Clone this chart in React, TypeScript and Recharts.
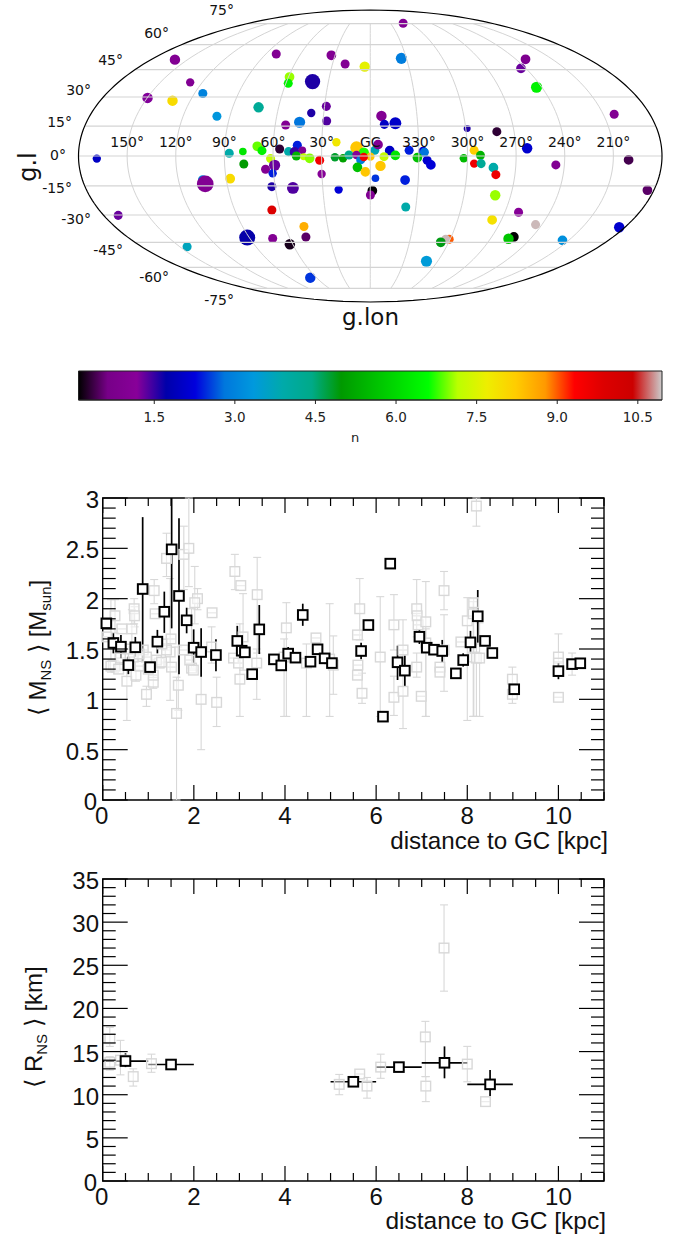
import { Cell, ErrorBar, ReferenceArea, ReferenceDot, Scatter, ScatterChart, XAxis, YAxis, ZAxis } from "recharts";

// sky map: x/y are the projected (Mollweide plane) coordinates in degrees, GC at the centre
const mapX = [168.7, 120.5, 111.1, 137.4, 122, 103.3, 94.6, 68.9, 58, 24, 49.8, 50.6, 35.6, 27.1, 36.4, 26.9, 43.6, 52.2, 20.9, 45, 55.9, 69.7, 66.8, 78.6, 87, 50.4, 46.7, 41.9, 45.6, 41.1, 37.4, 31.2, 21.8, 61.5, 78, 64.6, 59, 60.2, 86.4, 103.3, 101.8, 30, 60.7, 47.7, 19.5, 60.7, 155.5, 40.9, 75.9, 60.2, 39.7, 49.6, 113, 37, -20.3, 15.5, 3.4, -19.2, -95.8, -93, -102.6, -6.9, -8.7, -15.5, -59.8, -78.1, -150.5, -96.8, -64.1, 8.5, 4, -2.8, -4.8, -12, -24, -32.6, -33.4, -8.5, -15.5, -29.1, -35.1, -37.4, -57.7, -68, -64.1, -68.4, -76, -77.5, -114.5, -159.4, -171, 16.8, 13.1, 8.5, 5.9, -0.1, 4, 7.9, -6.3, 3, -3.2, -21.5, -1.3, -0.1, -77.1, -21.9, -91.5, -75.2, -102, -153.6, -48.7, -46.6, -43.5, -88.6, -85.3, -118.6, -34.7];
const mapY = [-1.6, 59.4, 45.4, 35.8, 34.1, 38.5, 24.5, 30, 62.9, 62.1, 48.7, 44.8, 45.9, 30.6, 26.5, 21.6, 20.8, 19.1, 8.5, 6.6, 4.3, 6, 3.3, 2.7, 1.7, 2.7, 2.5, 3.5, 0, -0.4, -1.4, -2.6, -0.8, -1.6, -4.9, -8.2, -5.7, -10.7, -14, -14.8, -17.2, -11.1, -18.9, -19.7, -20.7, -33.3, -36.6, -43.5, -50.3, -50.9, -49.9, -54.4, -55.9, -75, 81.8, 56.7, 55.1, 60.2, 59.6, 54, 42.4, 24.7, 19.5, 20.2, 16.9, 15, 25.7, 4.8, 3.5, 5.2, 2.1, 3.5, 7, 3.3, 3.5, 2.7, 2.3, -0.4, 0.4, -1, -2.6, -5.5, -1.4, 0.4, -4.7, -4.7, -7.2, -11.5, -5.5, -2.4, -21.1, -1.4, 0.6, 0.6, -2.4, -0.4, -0.6, -7, -6.1, -9.8, -13.7, -14.8, -21.4, -24, -24.2, -31.4, -34.7, -39.4, -42.3, -43.9, -51.3, -51.3, -53.2, -49.9, -51, -52, -64.9];
const mapN = [2, 1, 1, 1.2, 8, 3, 3.3, 4.2, 1, 1, 7.05, 6.4, 1.6, 1.3, 1.6, 1.4, 2.8, 1, 7.8, 2.4, 0.3, 6.9, 6.4, 6.2, 3.9, 3.9, 1.5, 1, 5.4, 7.2, 7, 9.5, 4.8, 7.25, 5, 1, 1.3, 2.4, 8, 3, 1, 1.1, 1.6, 1.4, 2.2, 9.9, 1.3, 8.55, 1.7, 1, 0.5, 0.2, 3.7, 2.5, 1, 1, 7.6, 2.9, 0.85, 1.3, 6.4, 1, 2, 2.05, 1.6, 0.3, 1, 2.1, 8.2, 8.3, 6.7, 3.8, 1, 2, 2.4, 2.1, 2.8, 7.25, 6.2, 5.6, 2.1, 2.2, 5.5, 5.4, 9.6, 4.2, 3.9, 9.6, 1, 0.4, 0.5, 5.1, 4.4, 1.1, 2.9, 8.3, 9.5, 5.6, 8.3, 8.3, 2.5, 2.4, 0.1, 1, 7.05, 3.9, 1.1, 7.9, 10.9, 2.1, 9, 10.9, 4.9, 0.1, 5.7, 3.2, 3.4];
const mapWeight = [12, 15, 12, 15, 15, 13, 13, 15, 13, 14, 14, 13, 22, 13, 12, 13, 16, 13, 12, 13, 13, 14, 13, 11, 13, 13, 14, 11, 13, 10, 14, 13, 12, 13, 13, 13, 16, 12, 14, 14, 24, 12, 13, 17, 12, 13, 13, 13, 23, 13, 13, 15, 13, 15, 13, 13, 15, 16, 14, 14, 16, 15, 13, 17, 10, 13, 13, 15, 13, 18, 15, 13, 14, 14, 13, 14, 13, 13, 14, 14, 13, 14, 12, 13, 12, 13, 14, 13, 13, 14, 14, 12, 13, 12, 13, 12, 12, 14, 15, 14, 11, 14, 14, 13, 15, 13, 13, 14, 13, 15, 13, 13, 14, 14, 15, 14, 16];

const lonTickValues = [150, 120, 90, 60, 30, 0, -30, -60, -90, -120, -150];
const lonTickLabels = ["150°", "120°", "90°", "60°", "30°", "GC", "330°", "300°", "270°", "240°", "210°"];
const latTickLabels = ["75°", "60°", "45°", "30°", "15°", "0°", "-15°", "-30°", "-45°", "-60°", "-75°"];
const latGrid = [75, 60, 45, 30, 15, 0, -15, -30, -45, -60, -75];
const lonGrid = [-150, -120, -90, -60, -30, 0, 30, 60, 90, 120, 150];

// nipy_spectral, 21 equally spaced stops
const nStops = ["#000000", "#770088", "#880099", "#0000aa", "#0000dd", "#0077dd", "#0099dd", "#00aaaa", "#00aa88", "#009900", "#00bb00", "#00dd00", "#00ff00", "#bbff00", "#eeee00", "#ffcc00", "#ff9900", "#ff0000", "#dd0000", "#cc0000", "#cccccc"];
const nTicks = [1.5, 3, 4.5, 6, 7.5, 9, 10.5];
const N_MIN = 0.09;
const N_MAX = 10.95;

// per-star mass vs distance (grey), hi/lo are the ends of the error bar
const massGreyX = [0.27, 0.42, 0.64, 0.69, 0.7, 1.13, 1.15, 1.4, 1.78, 1.89, 2.08, 2.02, 2.4, 2.9, 3.03, 3.08, 3.39, 4.03, 4.68, 0.53, 0.23, 0.27, 0.39, 0.73, 0.82, 0.96, 1.11, 1.24, 1.18, 1.48, 1.5, 1.66, 1.62, 2.16, 2.5, 3.01, 2.87, 2.98, 3.38, 3.98, 4.47, 1.95, 1.99, 1.77, 0.67, 0.89, 0.96, 2.39, 0.09, 0.18, 5.64, 5.59, 5.6, 5.59, 5.69, 6.09, 6.39, 6.39, 6.59, 6.59, 6.89, 6.9, 6.92, 6.89, 6.99, 7.09, 7.09, 7.49, 7.4, 7.4, 7.49, 7.86, 8, 8.14, 8.13, 8.2, 8.14, 8.2, 8.27, 8.99, 8.99, 10, 10, 10, 10.3, 5.06, 4.98, 1.4, 1.51, 1.91, 1.29, 1.11, 1, 0.55, 0.35, 1.3, 0.8];
const massGreyY = [1.83, 1.7, 1.7, 1.9, 1.83, 2.08, 1.85, 2.4, 2.44, 2.5, 2, 1.96, 1.86, 2.27, 2.13, 1.62, 2.04, 1.71, 1.61, 1.18, 1.34, 1.33, 1.41, 1.24, 1.33, 1.05, 1.17, 1.36, 1.39, 1.47, 1.6, 1.14, 0.86, 1, 0.97, 1.2, 1.41, 1.36, 1.36, 1.42, 1.36, 1.31, 1.29, 1.49, 1.42, 1.49, 1.42, 1.52, 1.62, 1.33, 1.9, 1.64, 1.34, 1.24, 1.06, 1.42, 1.74, 1.02, 1.08, 1.49, 1.9, 1.83, 1.74, 1.32, 1.03, 1.77, 1.56, 2.08, 1.32, 1.27, 1.49, 1.57, 1.78, 1.96, 1.85, 2.92, 1.42, 1.41, 1.41, 1.2, 1.05, 1.42, 1.02, 1.36, 1.35, 1.34, 1.4, 1.49, 1.32, 1.39, 1.37, 1.24, 1.3, 1.5, 1.3, 1.55, 1.45];
const massGreyHi = [1.99, 1.7, 1.89, 2, 1.92, 2.19, 1.85, 2.65, 2.72, 3, 2.1, 2.32, 1.86, 2.44, 2.13, 2.05, 2.41, 1.96, 1.61, 1.41, 1.34, 1.5, 1.41, 1.29, 1.33, 1.13, 1.24, 1.36, 1.39, 2.2, 1.6, 1.52, 1.22, 1.46, 1.22, 1.75, 1.41, 1.36, 1.5, 1.6, 1.55, 1.9, 1.29, 1.49, 1.42, 1.49, 1.42, 1.72, 1.62, 1.99, 2.2, 1.64, 1.34, 1.24, 1.26, 2.02, 2.04, 1.23, 1.79, 1.49, 2.19, 1.83, 1.74, 1.46, 1.03, 2.17, 1.7, 2.27, 1.32, 1.27, 1.84, 1.57, 2.01, 2, 1.97, 3, 1.6, 1.55, 1.76, 1.32, 1.05, 1.65, 1.02, 1.36, 1.46, 1.63, 1.95, 1.49, 1.32, 1.39, 1.37, 1.24, 1.3, 1.5, 1.3, 1.55, 1.45];
const massGreyLo = [1.66, 1.7, 1.52, 1.75, 1.72, 1.95, 1.85, 2.22, 2.09, 2.12, 1.89, 1.75, 1.86, 2.09, 2.13, 1.29, 1.46, 0.83, 1.61, 0.79, 1.34, 1.27, 1.41, 1.18, 1.33, 0.93, 1.11, 1.36, 1.39, 0.99, 1.6, 0.89, 0, 0.5, 0.73, 0.83, 1.41, 1.36, 1, 0.83, 0.83, 1.31, 1.29, 1.49, 1.42, 1.49, 1.42, 1.36, 1.62, 1.27, 1.59, 1.64, 1.34, 1.24, 0.96, 0.83, 1.49, 0.84, 0.71, 1.49, 1.62, 1.83, 1.74, 1.22, 1.03, 0.83, 0.83, 1.89, 1.32, 1.27, 1.08, 1.57, 0.79, 0.83, 0.83, 2.72, 0.83, 0.83, 0.83, 0.96, 1.05, 1.29, 1.02, 1.36, 1.24, 1.05, 0.83, 1.49, 1.32, 1.39, 1.37, 1.24, 1.3, 1.5, 1.3, 1.55, 1.45];

// per-bin mean mass (black)
const massMeanX = [0.08, 0.234, 0.4, 0.563, 0.716, 0.877, 1.04, 1.2, 1.352, 1.513, 1.674, 1.842, 1.996, 2.16, 2.485, 2.953, 3.05, 3.12, 3.28, 3.436, 3.757, 3.918, 4.07, 4.23, 4.39, 4.56, 4.715, 4.87, 5.03, 5.67, 5.83, 6.15, 6.31, 6.47, 6.63, 6.95, 7.11, 7.27, 7.45, 7.75, 7.91, 8.07, 8.23, 8.39, 8.55, 9.03, 10, 10.3, 10.48];
const massMeanY = [1.755, 1.56, 1.523, 1.34, 1.517, 2.096, 1.32, 1.573, 1.87, 2.49, 2.027, 1.785, 1.513, 1.47, 1.44, 1.58, 1.483, 1.467, 1.25, 1.695, 1.397, 1.337, 1.454, 1.414, 1.838, 1.374, 1.497, 1.407, 1.36, 1.48, 1.738, 0.828, 2.348, 1.368, 1.285, 1.622, 1.513, 1.493, 1.48, 1.258, 1.39, 1.566, 1.825, 1.58, 1.46, 1.1, 1.28, 1.35, 1.358];
const massMeanHi = [1.755, 1.656, 1.64, 1.424, 1.62, 2.81, 1.32, 1.69, 2.07, 3, 2.8, 1.91, 1.695, 1.705, 1.596, 1.73, 1.56, 1.467, 1.25, 1.937, 1.397, 1.337, 1.52, 1.414, 1.95, 1.374, 1.497, 1.407, 1.36, 1.563, 1.738, 0.828, 2.348, 1.533, 1.434, 1.695, 1.513, 1.493, 1.59, 1.258, 1.457, 1.68, 2.086, 1.58, 1.46, 1.1, 1.358, 1.35, 1.358];
const massMeanLo = [1.755, 1.457, 1.407, 1.25, 1.424, 1.374, 1.32, 1.457, 1.66, 1.705, 1.248, 1.656, 1.33, 1.225, 1.28, 1.44, 1.42, 1.467, 1.25, 1.45, 1.397, 1.337, 1.4, 1.414, 1.73, 1.374, 1.497, 1.407, 1.36, 1.397, 1.738, 0.828, 2.348, 1.192, 1.132, 1.55, 1.513, 1.493, 1.364, 1.258, 1.325, 1.457, 1.563, 1.58, 1.46, 1.1, 1.2, 1.35, 1.358];

// radius vs distance
const radiusGreyX = [0.156, 0.156, 0.39, 0.5, 0.67, 1.07, 5.19, 5.64, 5.8, 6.1, 7.08, 7.09, 7.49, 8, 8.4];
const radiusGreyY = [16.5, 13.75, 14, 14, 12.1, 13.6, 11.2, 12.4, 11, 13.2, 16.7, 11, 27, 13.55, 9.2];
const radiusGreyHi = [17.8, 14.4, 16.3, 14, 13, 14.7, 12.35, 12.4, 12, 14.7, 18.5, 12.1, 32, 15.6, 9.2];
const radiusGreyLo = [15.6, 12.85, 12.3, 14, 11, 12.6, 10, 12.4, 9.6, 11.9, 12.1, 9.2, 22, 11.5, 9.2];
const radiusMeanX = [0.5, 1.5, 5.5, 6.5, 7.5, 8.5];
const radiusMeanY = [13.9, 13.5, 11.5, 13.2, 13.7, 11.2];
const radiusMeanHi = [14.8, 13.5, 11.9, 13.6, 15.6, 12.85];
const radiusMeanLo = [13.2, 13.5, 11.1, 12.8, 11.9, 9.85];
const radiusBinHalfWidth = [0.5, 0.5, 0.5, 0.5, 0.5, 0.5];

const distanceTicks = [0, 0.5, 1, 1.5, 2, 2.5, 3, 3.5, 4, 4.5, 5, 5.5, 6, 6.5, 7, 7.5, 8, 8.5, 9, 9.5, 10, 10.5, 11];
const massTicks = [0, 0.1, 0.2, 0.3, 0.4, 0.5, 0.6, 0.7, 0.8, 0.9, 1, 1.1, 1.2, 1.3, 1.4, 1.5, 1.6, 1.7, 1.8, 1.9, 2, 2.1, 2.2, 2.3, 2.4, 2.5, 2.6, 2.7, 2.8, 2.9, 3];
const radiusTicks = [0, 1, 2, 3, 4, 5, 6, 7, 8, 9, 10, 11, 12, 13, 14, 15, 16, 17, 18, 19, 20, 21, 22, 23, 24, 25, 26, 27, 28, 29, 30, 31, 32, 33, 34, 35];

const SANS = "Liberation Sans, Arial, sans-serif";
const DEJAVU = "DejaVu Sans, sans-serif";
const GREY = "#d8d8d8";
const PLOT_LEFT = 102.7;
const PLOT_RIGHT = 604;
const PLOT_H = 302;

function colorOf(n: number) {
  const t = Math.min(1, Math.max(0, (n - N_MIN) / (N_MAX - N_MIN))) * (nStops.length - 1);
  const i = Math.min(nStops.length - 2, Math.floor(t));
  const mix = (k: number) => {
    const a = parseInt(nStops[i].slice(k, k + 2), 16);
    const b = parseInt(nStops[i + 1].slice(k, k + 2), 16);
    return Math.round(a + (b - a) * (t - i));
  };
  return `rgb(${mix(1)},${mix(3)},${mix(5)})`;
}

// Mollweide auxiliary angle for a latitude in degrees
function auxAngle(lat: number) {
  const phi = (lat * Math.PI) / 180;
  if (Math.abs(lat) === 90) return phi;
  let th = phi;
  for (let i = 0; i < 30; i++) th -= (2 * th + Math.sin(2 * th) - Math.PI * Math.sin(phi)) / (2 + 2 * Math.cos(2 * th));
  return th;
}
const project = (lon: number, lat: number) => {
  const th = auxAngle(lat);
  return { x: lon * Math.cos(th), y: 90 * Math.sin(th) };
};
const sweep = (from: number, to: number, steps: number) => Array.from({ length: steps + 1 }, (_, i) => from + ((to - from) * i) / steps);

const meridians = lonGrid.map((lon) => sweep(-75, 75, 60).map((lat) => project(lon, lat)));
const parallels = latGrid.map((lat) => [project(-180, lat), project(180, lat)]);
const outline = sweep(-90, 90, 120).map((lat) => project(180, lat)).concat(sweep(90, -90, 120).map((lat) => project(-180, lat)));

const mapRows = mapX.map((x, i) => ({ x, y: mapY[i], n: mapN[i], z: mapWeight[i] * mapWeight[i] }));
const rows = (xs: number[], ys: number[], hi: number[], lo: number[]) =>
  xs.map((x, i) => ({ x, y: ys[i], errY: [ys[i] - lo[i], hi[i] - ys[i]] }));
const massGrey = rows(massGreyX, massGreyY, massGreyHi, massGreyLo);
const massMean = rows(massMeanX, massMeanY, massMeanHi, massMeanLo);
const radiusGrey = rows(radiusGreyX, radiusGreyY, radiusGreyHi, radiusGreyLo);
const radiusMean = rows(radiusMeanX, radiusMeanY, radiusMeanHi, radiusMeanLo).map((r, i) => ({ ...r, errX: radiusBinHalfWidth[i] }));

const LAT_LABEL_RIGHT = [234, 169, 123, 91, 72, 66, 72, 91, 123, 169, 234];
const LAT_LABEL_BASE = [15, 38, 65, 95, 127, 160, 193, 224, 255, 282, 305];

const Nothing = () => null;

function GreySquare({ cx, cy }: any) {
  return <rect x={cx - 4.8} y={cy - 4.8} width={9.6} height={9.6} fill="#fff" fillOpacity={0.5} stroke={GREY} strokeWidth={1.4} />;
}
function MeanSquare({ cx, cy }: any) {
  return <rect x={cx - 4.8} y={cy - 4.8} width={9.6} height={9.6} fill="#fff" stroke="#000" strokeWidth={2} />;
}

function DistanceTick({ x, y, payload, plotH }: any) {
  const v = payload.value;
  const major = v % 2 === 0;
  const len = major ? 15 : 8;
  return (
    <g>
      <line x1={x} x2={x} y1={y} y2={y - len} stroke="#000" strokeWidth={1.2} />
      <line x1={x} x2={x} y1={y - plotH} y2={y - plotH + len} stroke="#000" strokeWidth={1.2} />
      {major && v < 11 && (
        <text x={v === 0 ? x - 1 : x} y={y + 23.5} textAnchor="middle" fontFamily={SANS} fontSize={24} fill="#111">
          {v}
        </text>
      )}
    </g>
  );
}

function ValueTick({ y, payload, step }: any) {
  const v = payload.value;
  const major = Math.abs(v / step - Math.round(v / step)) < 1e-6;
  const len = major ? 25 : 13;
  return (
    <g>
      <line x1={PLOT_LEFT} x2={PLOT_LEFT + len} y1={y} y2={y} stroke="#000" strokeWidth={1.2} />
      <line x1={PLOT_RIGHT} x2={PLOT_RIGHT - len} y1={y} y2={y} stroke="#000" strokeWidth={1.2} />
      {major && (
        <text x={v === 0 ? 97 : 99} y={y + 10} textAnchor="end" fontFamily={SANS} fontSize={24} fill="#111">
          {v}
        </text>
      )}
    </g>
  );
}

function MapPanel() {
  return (
    <div style={{ position: "absolute", left: 0, top: 0 }}>
      <ScatterChart width={683} height={335} margin={{ left: 78.5, right: 21, top: 10, bottom: 33 }}>
        <XAxis type="number" dataKey="x" domain={[-180, 180]} reversed hide />
        <YAxis type="number" dataKey="y" domain={[-90, 90]} hide />
        <ZAxis type="number" dataKey="z" domain={[0, 600]} range={[0, 228]} />
        <Scatter data={mapRows} isAnimationActive={false}>
          {mapRows.map((p, i) => (
            <Cell key={i} fill={colorOf(p.n)} />
          ))}
        </Scatter>
        {parallels.map((d, i) => (
          <Scatter key={`lat${i}`} data={d} shape={Nothing} line={{ stroke: "#d4d4d4", strokeWidth: 1.2 }} isAnimationActive={false} />
        ))}
        {meridians.map((d, i) => (
          <Scatter key={`lon${i}`} data={d} shape={Nothing} line={{ stroke: "#d4d4d4", strokeWidth: 1 }} isAnimationActive={false} />
        ))}
        <Scatter data={outline} shape={Nothing} line={{ stroke: "#000", strokeWidth: 1.2 }} isAnimationActive={false} />
        {lonTickValues.map((v, i) => (
          <ReferenceDot
            key={v}
            x={v}
            y={8.9}
            r={0}
            stroke="none"
            label={{ value: lonTickLabels[i], position: "center", fontFamily: DEJAVU, fontSize: 14, fill: "#111" }}
          />
        ))}
        {latTickLabels.map((t, i) => (
          <text key={t} x={LAT_LABEL_RIGHT[i]} y={LAT_LABEL_BASE[i]} textAnchor="end" fontFamily={DEJAVU} fontSize={14} fill="#111">
            {t}
          </text>
        ))}
        <text x={370.5} y={325} textAnchor="middle" fontFamily={DEJAVU} fontSize={23} fill="#111">
          g.lon
        </text>
        <text x={36} y={167} textAnchor="middle" fontFamily={DEJAVU} fontSize={24} fill="#111" transform="rotate(-90 36 167)">
          g.l
        </text>
      </ScatterChart>
    </div>
  );
}

function ColorBar() {
  return (
    <div style={{ position: "absolute", left: 0, top: 355 }}>
      <ScatterChart width={683} height={95} margin={{ left: 78.5, right: 21, top: 16, bottom: 0 }}>
        <defs>
          <linearGradient id="nGrad" x1="0" x2="1" y1="0" y2="0">
            {nStops.map((c, i) => (
              <stop key={i} offset={i / (nStops.length - 1)} stopColor={c} />
            ))}
          </linearGradient>
        </defs>
        <XAxis
          type="number"
          dataKey="n"
          domain={[N_MIN, N_MAX]}
          ticks={nTicks}
          interval={0}
          height={50}
          tickSize={4}
          tickMargin={8}
          tickFormatter={(v: number) => v.toFixed(1)}
          tick={{ fontFamily: DEJAVU, fontSize: 13.5, fill: "#222" }}
          stroke="#222"
        />
        <YAxis type="number" dataKey="y" domain={[0, 1]} hide />
        <Scatter data={nTicks.map((n) => ({ n, y: 0 }))} shape={Nothing} isAnimationActive={false} />
        <ReferenceArea x1={N_MIN} x2={N_MAX} y1={0} y2={1} fill="url(#nGrad)" fillOpacity={1} stroke="#222" strokeWidth={1} />
        <text x={355} y={87} textAnchor="middle" fontFamily={DEJAVU} fontSize={13} fill="#222">
          n
        </text>
      </ScatterChart>
    </div>
  );
}

function DistancePanel({ top, height, marginTop, yMax, yTicks, step, grey, mean, showBins, titleX, titleY, titleSize, children }: any) {
  return (
    <div style={{ position: "absolute", left: 0, top }}>
      <ScatterChart width={683} height={height} margin={{ left: 0, right: 683 - PLOT_RIGHT, top: marginTop, bottom: 0 }}>
        <XAxis
          type="number"
          dataKey="x"
          domain={[0, 11]}
          ticks={distanceTicks}
          interval={0}
          height={height - marginTop - PLOT_H}
          tickLine={false}
          axisLine={false}
          tick={(p: any) => <DistanceTick {...p} y={marginTop + PLOT_H} plotH={PLOT_H} />}
        />
        <YAxis
          type="number"
          dataKey="y"
          domain={[0, yMax]}
          ticks={yTicks}
          interval={0}
          width={PLOT_LEFT}
          tickLine={false}
          axisLine={false}
          tick={(p: any) => <ValueTick {...p} step={step} />}
        />
        <ReferenceArea x1={0} x2={11} y1={0} y2={yMax} fill="none" stroke="#000" strokeWidth={1.4} />
        <Scatter data={grey} shape={GreySquare} isAnimationActive={false}>
          <ErrorBar dataKey="errY" direction="y" width={4} stroke={GREY} strokeWidth={1.1} />
        </Scatter>
        <Scatter data={mean} shape={MeanSquare} isAnimationActive={false}>
          <ErrorBar dataKey="errY" direction="y" width={0} stroke="#000" strokeWidth={1.7} />
          {showBins && <ErrorBar dataKey="errX" direction="x" width={0} stroke="#000" strokeWidth={1.7} />}
        </Scatter>
        <text x={titleX} y={titleY} textAnchor="end" fontFamily={SANS} fontSize={titleSize} fill="#111">
          distance to GC [kpc]
        </text>
        {children}
      </ScatterChart>
    </div>
  );
}

export default function App() {
  return (
    <div style={{ position: "absolute", left: 0, top: 0, width: 683, height: 1237, background: "#fff", overflow: "hidden" }}>
      <MapPanel />
      <ColorBar />
      <DistancePanel top={480} height={380} marginTop={18} yMax={3} yTicks={massTicks} step={0.5} grey={massGrey} mean={massMean} titleX={608} titleY={369} titleSize={24.2}>
        <text x={46} y={168} textAnchor="middle" fontFamily={SANS} fontSize={24} fill="#111" transform="rotate(-90 46 168)">
          ⟨ M<tspan fontSize={15} dy={5}>NS</tspan>
          <tspan dy={-5}> ⟩ [M</tspan>
          <tspan fontSize={15} dy={5}>sun</tspan>
          <tspan dy={-5}>]</tspan>
        </text>
      </DistancePanel>
      <DistancePanel top={860} height={377} marginTop={19} yMax={35} yTicks={radiusTicks} step={5} grey={radiusGrey} mean={radiusMean} showBins titleX={606} titleY={369} titleSize={24.5}>
        <text x={42} y={167} textAnchor="middle" fontFamily={SANS} fontSize={24} fill="#111" transform="rotate(-90 42 167)">
          ⟨ R<tspan fontSize={15} dy={5}>NS</tspan>
          <tspan dy={-5}> ⟩ [km]</tspan>
        </text>
      </DistancePanel>
    </div>
  );
}
